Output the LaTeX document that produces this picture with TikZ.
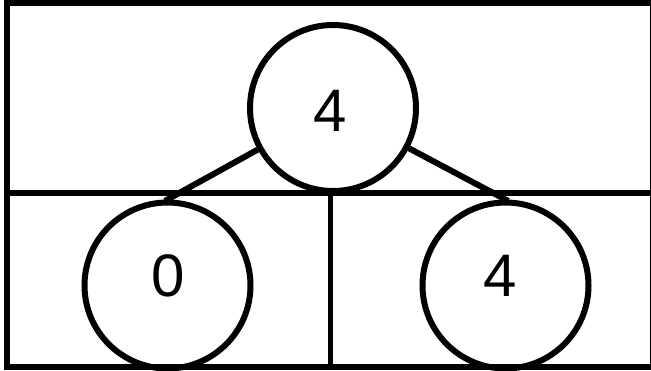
\documentclass[tikz,border=0pt]{standalone}
\usepackage{fontspec}
\setmainfont{Liberation Sans}
\begin{document}
\begin{tikzpicture}[x=1pt,y=-1pt,
  treenode/.style={circle, draw, line width=6pt, minimum size=166pt, inner sep=0pt},
  digit/.style={font=\fontsize{60}{60}\selectfont, inner sep=0pt},
  conn/.style={line width=6pt, shorten >=-3pt},
  frame/.style={line width=6pt}]
\useasboundingbox (0,0) rectangle (651,370);
\clip (0,0) rectangle (651,370);
% frame
\draw[frame] (6.5,2.5) rectangle (652.5,367);
\draw[frame] (6.5,192.5) -- (651,192.5);
\draw[line width=5pt] (330,192.5) -- (330,367);
% nodes
\node[treenode] (top) at (333,108) {};
\node[treenode] (bl) at (167.5,285.5) {};
\node[treenode] (br) at (505.5,285.5) {};
\node[digit] (ttop) at (330,111) {4};
\node[digit] (tbl) at (168,276) {0};
\node[digit] (tbr) at (500,276) {4};
% connectors
\draw[conn] (top) -- (bl.north);
\draw[conn] (top) -- (br.north);
\end{tikzpicture}
\end{document}
